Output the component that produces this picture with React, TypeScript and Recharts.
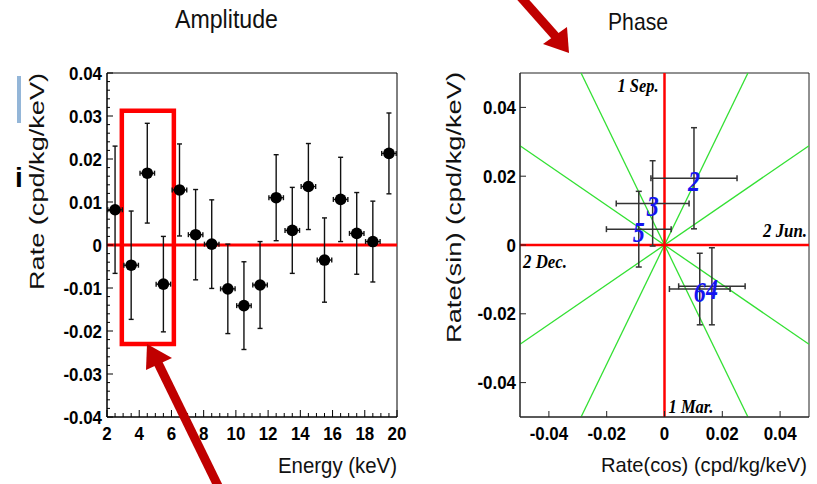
import React from 'react';
import {
  ScatterChart,
  Scatter,
  XAxis,
  YAxis,
  ErrorBar,
  ReferenceLine,
  ReferenceArea,
  Label,
} from 'recharts';

// ---------- Amplitude panel data ----------
const energy = [2.5, 3.5, 4.5, 5.5, 6.5, 7.5, 8.5, 9.5, 10.5, 11.5, 12.5, 13.5, 14.5, 15.5, 16.5, 17.5, 18.5, 19.5];
const energyErr = [0.45, 0.45, 0.45, 0.45, 0.45, 0.45, 0.45, 0.45, 0.45, 0.45, 0.45, 0.45, 0.45, 0.45, 0.45, 0.45, 0.45, 0.45];
const amplitude = [0.0082, -0.0047, 0.0167, -0.0091, 0.0128, 0.0024, 0.0002, -0.0102, -0.0141, -0.0093, 0.011, 0.0034, 0.0136, -0.0035, 0.0106, 0.0027, 0.0008, 0.0213];
const amplitudeErr = [0.0148, 0.0126, 0.0116, 0.0111, 0.0107, 0.0105, 0.0103, 0.0104, 0.0102, 0.0101, 0.01, 0.01, 0.01, 0.0098, 0.0098, 0.0095, 0.0094, 0.0094];
const energyTicks = [2, 4, 6, 8, 10, 12, 14, 16, 18, 20];
const rateTicks = [-0.04, -0.03, -0.02, -0.01, 0, 0.01, 0.02, 0.03, 0.04];
const energyDomain = [2, 20];
const rateDomain = [-0.04, 0.04];
const highlight = { e1: 2.92, e2: 6.15, r1: -0.023, r2: 0.0312 };

// ---------- Phase panel data ----------
const phaseLabels = ['2', '3', '5', '6', '4'];
const phaseCos = [0.0102, -0.0041, -0.0089, 0.0122, 0.0164];
const phaseCosErr = [0.0149, 0.0126, 0.0112, 0.0105, 0.0115];
const phaseSin = [0.0194, 0.0121, 0.0046, -0.0128, -0.012];
const phaseSinErr = [0.0147, 0.0124, 0.011, 0.0104, 0.0112];
const phaseTicks = [-0.04, -0.02, 0, 0.02, 0.04];
const phaseRange = 0.05;
const guideAngles = [30, 60, 120, 150];
const monthNames = { top: '1 Sep.', bottom: '1 Mar.', right: '2 Jun.', left: '2 Dec.' };

const ampData = energy.map((e, i) => ({
  energy: e,
  energyErr: energyErr[i],
  rate: amplitude[i],
  rateErr: amplitudeErr[i],
}));

const phaseData = phaseLabels.map((l, i) => ({
  label: l,
  cos: phaseCos[i],
  cosErr: phaseCosErr[i],
  sin: phaseSin[i],
  sinErr: phaseSinErr[i],
}));

const energyMinor: number[] = [];
for (let i = 0; i <= 36; i++) energyMinor.push(2 + i * 0.5);
const rateMinor: number[] = [];
for (let i = 0; i <= 40; i++) rateMinor.push(Math.round((-0.04 + i * 0.002) * 10000) / 10000);

const guideSegments = guideAngles.map((deg) => {
  const c = Math.cos((deg * Math.PI) / 180);
  const s = Math.sin((deg * Math.PI) / 180);
  const t = phaseRange / Math.max(Math.abs(c), Math.abs(s));
  return [
    { x: -t * c, y: -t * s },
    { x: t * c, y: t * s },
  ];
});

const SANS = '"Liberation Sans", Arial, Helvetica, sans-serif';
const SERIF = '"Liberation Serif", "Times New Roman", serif';

const isIn = (arr: number[], v: number) => arr.some((t) => Math.abs(t - v) < 1e-9);
const fmtRate = (v: number) => (Math.abs(v) < 1e-9 ? '0' : v.toFixed(2));

function TickText({ x, y, anchor, children }: any) {
  return (
    <text
      transform={`translate(${x},${y}) scale(0.94,1)`}
      x={0}
      y={0}
      textAnchor={anchor}
      fontFamily={SANS}
      fontWeight="bold"
      fontSize={18}
      fill="#000"
    >
      {children}
    </text>
  );
}

const makeXTick = (majors: number[], fmt: (v: number) => string, majorLen: number, minorLen: number, color: string) =>
  (p: any) => {
    const v = p.payload.value;
    const major = isIn(majors, v);
    return (
      <g>
        <line x1={p.x} x2={p.x} y1={p.y} y2={p.y - (major ? majorLen : minorLen)} stroke={color} strokeWidth={1} />
        {major && (
          <TickText x={p.x} y={p.y + 23} anchor="middle">
            {fmt(v)}
          </TickText>
        )}
      </g>
    );
  };

const makeYTick = (majors: number[], fmt: (v: number) => string, majorLen: number, minorLen: number, gap: number, color: string) =>
  (p: any) => {
    const v = p.payload.value;
    const major = isIn(majors, v);
    return (
      <g>
        <line x1={p.x} x2={p.x + (major ? majorLen : minorLen)} y1={p.y} y2={p.y} stroke={color} strokeWidth={1} />
        {major && (
          <TickText x={p.x - gap} y={p.y + 6.5} anchor="end">
            {fmt(v)}
          </TickText>
        )}
      </g>
    );
  };

function FitText({ x, y, size, len, anchor = 'middle', rotate = false, weight = 'normal', family = SANS, style = 'normal', fill = '#111', children }: any) {
  return (
    <text
      x={x}
      y={y}
      fontSize={size}
      textAnchor={anchor}
      fontFamily={family}
      fontWeight={weight}
      fontStyle={style}
      fill={fill}
      textLength={len}
      lengthAdjust="spacingAndGlyphs"
      transform={rotate ? `rotate(-90 ${x} ${y})` : undefined}
    >
      {children}
    </text>
  );
}

const MONTH_STYLE = { size: 19, family: SERIF, weight: 'bold', style: 'italic', fill: '#000' };

export default function App() {
  return (
    <div style={{ position: 'absolute', left: 0, top: 0, width: 817, height: 484, background: '#fff', overflow: 'hidden' }}>
      {/* Amplitude panel */}
      <div style={{ position: 'absolute', left: 0, top: 0 }}>
        <ScatterChart width={420} height={484} margin={{ top: 73, right: 23, bottom: 0, left: 0 }}>
          <XAxis
            type="number"
            dataKey="energy"
            domain={energyDomain}
            allowDataOverflow
            ticks={energyMinor}
            interval={0}
            tickLine={false}
            tickSize={0}
            tickMargin={0}
            height={67}
            axisLine={{ stroke: '#000' }}
            tick={makeXTick(energyTicks, (v) => String(v), 7, 4, '#000')}
          >
            <Label
              content={(p: any) => (
                <FitText x={p.viewBox.x + p.viewBox.width} y={p.viewBox.y + 56} size={22} len={119} anchor="end">
                  Energy (keV)
                </FitText>
              )}
            />
          </XAxis>
          <YAxis
            type="number"
            dataKey="rate"
            domain={rateDomain}
            allowDataOverflow
            ticks={rateMinor}
            interval={0}
            tickLine={false}
            tickSize={0}
            tickMargin={0}
            width={107}
            axisLine={{ stroke: '#000' }}
            tick={makeYTick(rateTicks, fmtRate, 6, 3, 5, '#000')}
          >
            <Label
              content={(p: any) => (
                <FitText x={44} y={p.viewBox.y} size={21} len={217} anchor="end" rotate>
                  Rate (cpd/kg/keV)
                </FitText>
              )}
            />
          </YAxis>
          <ReferenceArea
            x1={energyDomain[0]}
            x2={energyDomain[1]}
            y1={rateDomain[0]}
            y2={rateDomain[1]}
            fill="none"
            fillOpacity={0}
            stroke="#000"
            strokeWidth={1}
            ifOverflow="visible"
          >
            <Label
              content={(p: any) => (
                <FitText x={p.viewBox.x + 119.5} y={p.viewBox.y - 45} size={26} len={103}>
                  Amplitude
                </FitText>
              )}
            />
          </ReferenceArea>
          <ReferenceLine y={0} stroke="#ff0000" strokeWidth={3} ifOverflow="visible" />
          <ReferenceArea
            x1={highlight.e1}
            x2={highlight.e2}
            y1={highlight.r1}
            y2={highlight.r2}
            fill="none"
            fillOpacity={0}
            stroke="#ff0000"
            strokeWidth={4.5}
            ifOverflow="visible"
          />
          <Scatter
            data={ampData}
            isAnimationActive={false}
            shape={(p: any) => <circle cx={p.cx} cy={p.cy} r={5.8} fill="#000" />}
          >
            <ErrorBar dataKey="rateErr" direction="y" width={2.5} stroke="#111" strokeWidth={1.4} isAnimationActive={false} />
            <ErrorBar dataKey="energyErr" direction="x" width={2.5} stroke="#111" strokeWidth={1.4} isAnimationActive={false} />
          </Scatter>
        </ScatterChart>
      </div>

      {/* Phase panel */}
      <div style={{ position: 'absolute', left: 420, top: 0 }}>
        <ScatterChart width={397} height={484} margin={{ top: 73, right: 8, bottom: 0, left: 0 }}>
          <XAxis
            type="number"
            dataKey="cos"
            domain={[-phaseRange, phaseRange]}
            allowDataOverflow
            ticks={phaseTicks}
            interval={0}
            tickLine={false}
            tickSize={0}
            tickMargin={0}
            height={67}
            axisLine={{ stroke: '#222' }}
            tick={makeXTick(phaseTicks, fmtRate, 6, 6, '#222')}
          >
            <Label
              content={(p: any) => (
                <FitText x={p.viewBox.x + p.viewBox.width - 2} y={p.viewBox.y + 55} size={21} len={206} anchor="end">
                  Rate(cos) (cpd/kg/keV)
                </FitText>
              )}
            />
          </XAxis>
          <YAxis
            type="number"
            dataKey="sin"
            domain={[-phaseRange, phaseRange]}
            allowDataOverflow
            ticks={phaseTicks}
            interval={0}
            tickLine={false}
            tickSize={0}
            tickMargin={0}
            width={100}
            axisLine={{ stroke: '#222' }}
            tick={makeYTick(phaseTicks, fmtRate, 6, 6, 4, '#222')}
          >
            <Label
              content={(p: any) => (
                <FitText x={41} y={p.viewBox.y - 1} size={20} len={271} anchor="end" rotate>
                  Rate(sin) (cpd/kg/keV)
                </FitText>
              )}
            />
          </YAxis>
          <ReferenceArea
            x1={-phaseRange}
            x2={phaseRange}
            y1={-phaseRange}
            y2={phaseRange}
            fill="none"
            fillOpacity={0}
            stroke="#222"
            strokeWidth={1}
            ifOverflow="visible"
          >
            <Label
              content={(p: any) => (
                <FitText x={p.viewBox.x + 118} y={p.viewBox.y - 43} size={24} len={60}>
                  Phase
                </FitText>
              )}
            />
          </ReferenceArea>
          {guideSegments.map((seg, i) => (
            <ReferenceLine key={i} segment={seg} stroke="#33e033" strokeWidth={1.3} ifOverflow="visible" />
          ))}
          <ReferenceLine x={0} stroke="#ff0000" strokeWidth={2.5} ifOverflow="visible">
            <Label
              content={(p: any) => (
                <g>
                  <FitText {...MONTH_STYLE} x={p.viewBox.x - 6} y={p.viewBox.y + 19} len={41} anchor="end">
                    {monthNames.top}
                  </FitText>
                  <FitText {...MONTH_STYLE} x={p.viewBox.x + 4} y={p.viewBox.y + p.viewBox.height - 4} len={45} anchor="start">
                    {monthNames.bottom}
                  </FitText>
                </g>
              )}
            />
          </ReferenceLine>
          <ReferenceLine y={0} stroke="#ff0000" strokeWidth={2.5} ifOverflow="visible">
            <Label
              content={(p: any) => (
                <g>
                  <FitText {...MONTH_STYLE} x={p.viewBox.x + p.viewBox.width - 2} y={p.viewBox.y - 8} len={44} anchor="end">
                    {monthNames.right}
                  </FitText>
                  <FitText {...MONTH_STYLE} x={p.viewBox.x + 3} y={p.viewBox.y + 23} len={44} anchor="start">
                    {monthNames.left}
                  </FitText>
                </g>
              )}
            />
          </ReferenceLine>
          <Scatter
            data={phaseData}
            isAnimationActive={false}
            shape={(p: any) => (
              <text
                x={p.cx}
                y={p.cy + 13}
                textAnchor="middle"
                fontFamily={SERIF}
                fontStyle="italic"
                fontWeight="bold"
                fontSize={30}
                textLength={12}
                lengthAdjust="spacingAndGlyphs"
                fill="#1414f0"
              >
                {p.payload.label}
              </text>
            )}
          >
            <ErrorBar dataKey="sinErr" direction="y" width={3} stroke="#333" strokeWidth={1.5} isAnimationActive={false} />
            <ErrorBar dataKey="cosErr" direction="x" width={3} stroke="#333" strokeWidth={1.5} isAnimationActive={false} />
          </Scatter>
        </ScatterChart>
      </div>

      {/* slide annotations */}
      <svg width={817} height={484} style={{ position: 'absolute', left: 0, top: 0, pointerEvents: 'none' }}>
        <rect x={17} y={76} width={4} height={47} fill="#94b6d8" />
        <text x={19} y={187} textAnchor="middle" fontFamily={SANS} fontWeight="bold" fontSize={28} fill="#000">
          i
        </text>
        <line x1={158} y1={363} x2={221} y2={492} stroke="#c00000" strokeWidth={9} />
        <polygon points="147,344 146,370 172,358" fill="#c00000" />
        <line x1={518} y1={-6} x2={557} y2={38} stroke="#c00000" strokeWidth={9} />
        <polygon points="569,53 543,44 567,27" fill="#c00000" />
      </svg>
    </div>
  );
}
